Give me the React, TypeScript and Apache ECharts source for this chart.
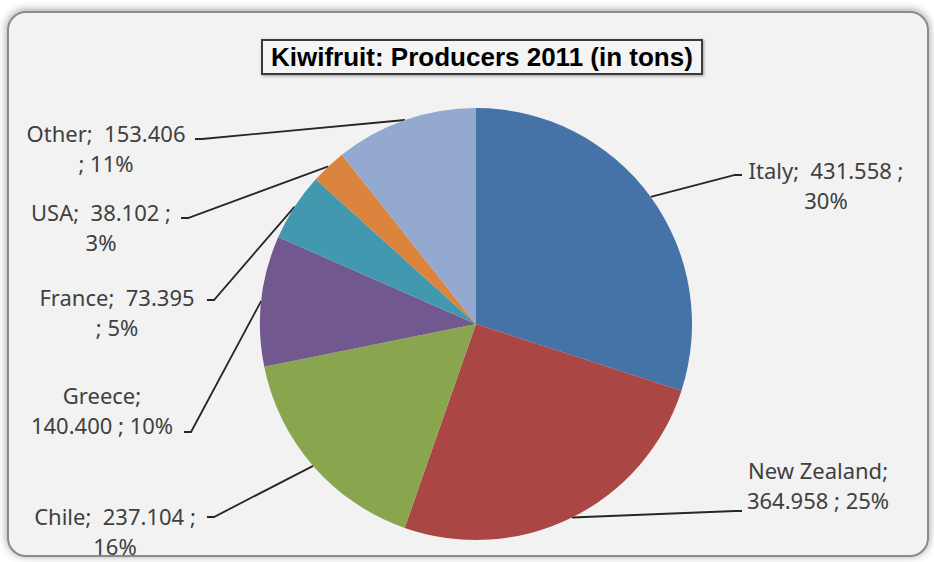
import React, { useEffect, useRef } from 'react';
import * as echarts from 'echarts';

const categories = ['Italy', 'New Zealand', 'Chile', 'Greece', 'France', 'USA', 'Other'];
const production = [431558, 364958, 237104, 140400, 73395, 38102, 153406];
const sliceColors = ['#4572A7', '#AA4643', '#89A54E', '#71588F', '#4198AF', '#DB843D', '#93A9CF'];
const titleText = 'Kiwifruit: Producers 2011 (in tons)';
// where each label wraps: after the name, after "value ;", or before "; pct"
const labelWrap = ['sep', 'name', 'sep', 'name', 'value', 'sep', 'value'];

// layout only: label centre x, centre y, leader end x, leader end y
const labelPlacement = [
  [826, 185, 742, 175],
  [818, 485, 742, 511],
  [115, 531, 207, 517],
  [102, 410, 184, 432],
  [117, 312, 207, 300],
  [101, 227, 181, 218],
  [106, 148, 195, 139],
];

export default function App() {
  const ref = useRef<HTMLDivElement>(null);
  useEffect(() => {
    if (!ref.current) return;
    const chart = echarts.init(ref.current, null, { renderer: 'svg' });
    const total = production.reduce((a, b) => a + b, 0);
    const fmtVal = (v: number) => (v / 1000).toFixed(3);
    const data = categories.map((name, i) => ({
      name,
      value: production[i],
      itemStyle: { color: sliceColors[i] },
    }));
    chart.setOption({
      animation: false,
      title: {
        text: titleText,
        left: 262,
        top: 40,
        padding: [4, 9, 4, 9],
        borderWidth: 2,
        borderColor: '#3a3a3a',
        backgroundColor: '#f4f4f4',
        shadowColor: 'rgba(0,0,0,0.35)',
        shadowBlur: 3,
        shadowOffsetX: 1,
        shadowOffsetY: 1,
        textStyle: {
          fontFamily: 'Liberation Sans, Arial, sans-serif',
          fontWeight: 'bold',
          fontSize: 26,
          color: '#000',
        },
      },
      graphic: [
        {
          type: 'rect',
          z: -10,
          silent: true,
          shape: { x: 8, y: 12, width: 920, height: 544, r: 18 },
          style: {
            fill: '#f2f2f2',
            stroke: '#8a8a8a',
            lineWidth: 2,
            shadowBlur: 8,
            shadowColor: 'rgba(0,0,0,0.4)',
            shadowOffsetY: -1,
          },
        },
      ],
      series: [
        {
          type: 'pie',
          center: [476, 324],
          radius: 216,
          startAngle: 90,
          clockwise: true,
          avoidLabelOverlap: false,
          data,
          itemStyle: { borderWidth: 0 },
          emphasis: { disabled: true },
          label: {
            show: true,
            position: 'outside',
            fontFamily: 'Noto Sans, sans-serif',
            fontSize: 22,
            lineHeight: 30,
            color: '#404040',
            align: 'center',
            formatter: (p: any) => {
              const i = p.dataIndex;
              const v = fmtVal(production[i]);
              const pct = Math.round((production[i] / total) * 100) + '%';
              const w = labelWrap[i];
              if (w === 'name') return `${categories[i]};\n${v} ; ${pct}`;
              if (w === 'value') return `${categories[i]};  ${v}\n; ${pct}`;
              return `${categories[i]};  ${v} ;\n${pct}`;
            },
          },
          labelLine: {
            show: true,
            length: 10,
            length2: 10,
            lineStyle: { color: '#262626', width: 1.8 },
          },
          labelLayout: (params: any) => {
            const i = params.dataIndex;
            const [cx, cy, ex, ey] = labelPlacement[i];
            const dir = ex < 476 ? 1 : -1;
            const p0 = params.labelLinePoints ? params.labelLinePoints[0] : [ex, ey];
            return {
              x: cx,
              y: cy,
              align: 'center',
              verticalAlign: 'middle',
              labelLinePoints: [p0, [ex + dir * 7, ey], [ex, ey]],
            };
          },
        },
      ],
    });
    return () => chart.dispose();
  }, []);
  return (
    <div
      ref={ref}
      style={{ position: 'absolute', left: 0, top: 0, width: 934, height: 562 }}
    />
  );
}
